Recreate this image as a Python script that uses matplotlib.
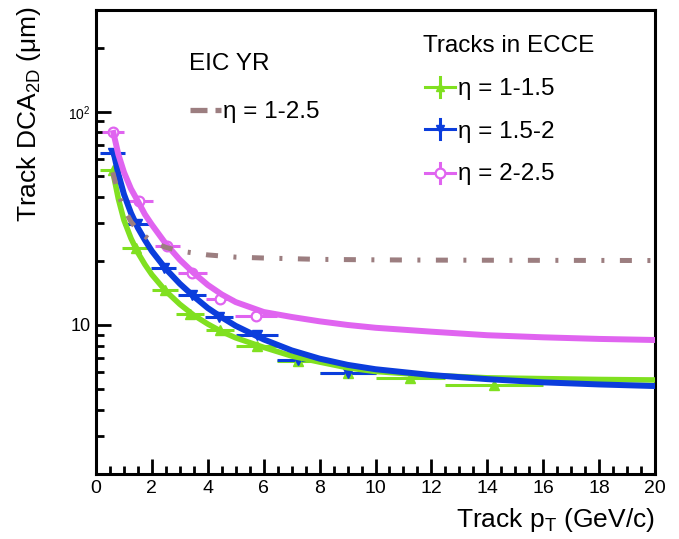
import numpy as np
import matplotlib
matplotlib.use("Agg")
import matplotlib.pyplot as plt
from matplotlib.lines import Line2D
from matplotlib.ticker import MultipleLocator, LogLocator, NullFormatter

plt.rcParams["font.family"] = ["Liberation Sans", "DejaVu Sans"]
plt.rcParams["mathtext.fontset"] = "custom"
plt.rcParams["mathtext.rm"] = "Liberation Sans"
plt.rcParams["mathtext.default"] = "regular"

# ECCE track points (pT bin centre, DCA in um, half bin width)
g_x = [0.6, 1.42, 2.47, 3.36, 4.44, 5.75, 7.24, 9.0, 11.25, 14.25]
g_y = [53.4, 22.9, 14.6, 11.3, 9.5, 8.0, 6.75, 5.95, 5.64, 5.23]
g_xerr = [0.45, 0.5, 0.45, 0.5, 0.5, 0.75, 0.75, 1.0, 1.25, 1.75]

b_x = [0.6, 1.45, 2.42, 3.42, 4.4, 5.75, 7.24, 9.0]
b_y = [64.0, 29.7, 18.5, 13.8, 10.9, 8.98, 6.85, 5.93]
b_xerr = [0.45, 0.5, 0.45, 0.5, 0.5, 0.75, 0.75, 1.0]

m_x = [0.6, 1.55, 2.55, 3.45, 4.45, 5.72]
m_y = [80.0, 38.3, 23.5, 17.5, 13.3, 11.06]
m_xerr = [0.4, 0.48, 0.45, 0.52, 0.5, 0.75]

# fitted curves sampled along pT
fit_x = [0.6, 0.8, 1.0, 1.25, 1.5, 1.75, 2.0, 2.5, 3.0, 3.5, 4.0, 4.5, 5.0,
         6.0, 7.0, 8.0, 9.0, 10, 12, 14, 16, 18, 20]
g_fit = [52.5, 39.0, 31.0, 25.5, 21.8, 19.2, 17.2, 14.4, 12.5, 11.1, 10.1, 9.3, 8.7,
         7.85, 7.15, 6.7, 6.3, 6.05, 5.8, 5.65, 5.6, 5.55, 5.52]
b_fit = [67.0, 51.0, 41.0, 33.5, 28.5, 25.0, 22.2, 18.3, 15.6, 13.6, 12.0, 10.85, 9.9,
         8.55, 7.6, 6.95, 6.5, 6.2, 5.82, 5.57, 5.38, 5.26, 5.17]
m_fit = [82.0, 63.0, 52.0, 43.5, 38.0, 33.0, 29.5, 24.0, 20.2, 17.5, 15.4, 13.9, 12.8,
         11.5, 10.9, 10.4, 10.0, 9.7, 9.3, 8.95, 8.75, 8.6, 8.5]

# EIC Yellow Report requirement, eta 1-2.5
yr_x = [0.6, 0.8, 1.0, 1.25, 1.5, 2.0, 2.5, 3.0, 4.0, 5.0, 6.0, 8.0, 10, 12, 15, 20]
yr_y = [52.0, 41.2, 35.1, 30.5, 27.7, 24.6, 23.1, 22.2, 21.3, 20.8, 20.6, 20.3, 20.2,
        20.14, 20.1, 20.05]

green = "#80e020"
blue = "#0b3ddc"
magenta = "#e064f0"
brown = "#9c7e80"

W, H = 679, 539


def fx(px):
    return px / W


def fy(py):
    return 1 - py / H


fig = plt.figure(figsize=(6.79, 5.39), dpi=100)
ax = fig.add_axes([0.1414, 0.1206, 0.8233, 0.8609])

ax.errorbar(g_x, g_y, xerr=g_xerr, fmt="^", color=green, ms=7, elinewidth=2.2, capsize=0, zorder=2)
ax.errorbar(b_x, b_y, xerr=b_xerr, fmt="v", color=blue, ms=7, elinewidth=2.2, capsize=0, zorder=2)
ax.errorbar(m_x, m_y, xerr=m_xerr, fmt="o", color=magenta, mfc="white", mec=magenta,
            mew=1.6, ms=7, elinewidth=2.2, capsize=0, zorder=2)

ax.plot(fit_x, g_fit, color=green, lw=4.0, solid_capstyle="butt", zorder=3)
ax.plot(fit_x, b_fit, color=blue, lw=4.3, solid_capstyle="butt", zorder=3)
ax.plot(fit_x, m_fit, color=magenta, lw=4.3, solid_capstyle="butt", zorder=3)
ax.plot(yr_x, yr_y, color=brown, lw=3.6, dashes=(2.4, 3.1, 0.6, 3.1),
        dash_capstyle="butt", zorder=4)

ax.set_xlim(0, 20)
ax.set_yscale("log")
ax.set_ylim(2, 300)
ax.xaxis.set_major_locator(MultipleLocator(2))
ax.xaxis.set_minor_locator(MultipleLocator(0.5))
ax.set_yticks([10, 100], labels=["10", "10$^{2}$"])
ax.yaxis.set_minor_locator(LogLocator(base=10, subs=np.arange(2, 10)))
ax.yaxis.set_minor_formatter(NullFormatter())

ax.tick_params(which="both", direction="in", top=False, right=False, width=2)
ax.tick_params(which="major", length=11)
ax.tick_params(which="minor", length=6)
ax.tick_params(axis="x", labelsize=14, pad=4)
ax.tick_params(axis="y", pad=4)
ylabels = ax.get_yticklabels()
ylabels[0].set_fontsize(13)
ylabels[1].set_fontsize(10)
for s in ax.spines.values():
    s.set_linewidth(2.2)

fig.text(0.043, fy(6), "Track DCA$_{\\mathregular{2D}}$ (\u03bcm)", rotation=90,
         ha="center", va="top", fontsize=19)
fig.text(fx(655), fy(527), "Track p$_{\\mathregular{T}}$ (GeV/c)",
         ha="right", va="baseline", fontsize=19)

# legend: EIC YR
fig.text(fx(189), fy(70), "EIC YR", ha="left", va="baseline", fontsize=17.5)
fig.add_artist(Line2D([fx(190), fx(207)], [fy(110)] * 2, color=brown, lw=3.8,
                      solid_capstyle="butt"))
fig.add_artist(Line2D([fx(215), fx(221)], [fy(110)] * 2, color=brown, lw=3.8,
                      solid_capstyle="butt"))
fig.text(fx(223), fy(118), "\u03b7 = 1-2.5", ha="left", va="baseline", fontsize=17.5)

# legend: ECCE tracks
fig.text(fx(423), fy(52), "Tracks in ECCE", ha="left", va="baseline", fontsize=17.5)
entries = [(green, "^", 87, 95, "\u03b7 = 1-1.5"),
           (blue, "v", 129, 138, "\u03b7 = 1.5-2"),
           (magenta, "o", 173, 180, "\u03b7 = 2-2.5")]
for col, mk, yc, yb, lab in entries:
    fig.add_artist(Line2D([fx(425), fx(455)], [fy(yc)] * 2, color=col, lw=2.2))
    fig.add_artist(Line2D([fx(440)] * 2, [fy(yc + 10), fy(yc - 10)], color=col, lw=2.2))
    if mk == "o":
        fig.add_artist(Line2D([fx(440)], [fy(yc)], marker="o", ms=7, mfc="white",
                              mec=col, mew=1.6, color=col))
    else:
        fig.add_artist(Line2D([fx(440)], [fy(yc)], marker=mk, ms=6, color=col))
    fig.text(fx(458), fy(yb), lab, ha="left", va="baseline", fontsize=17.5)

fig.savefig("out.png", dpi=100)
